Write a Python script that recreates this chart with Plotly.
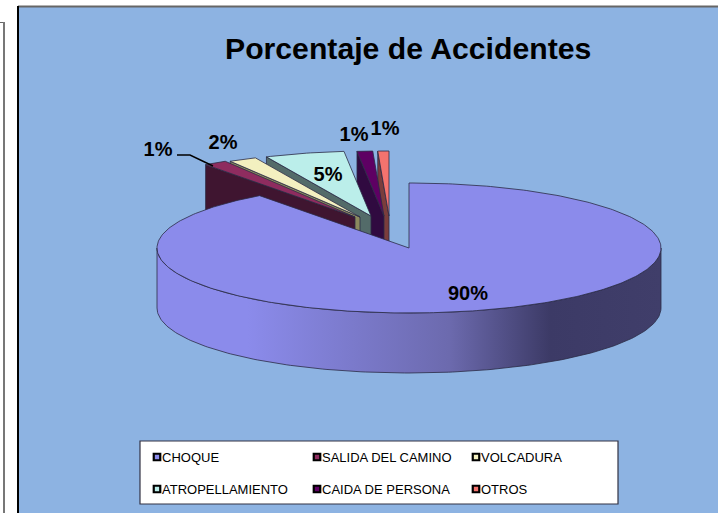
import math
import numpy as np
import plotly.graph_objects as go

# ---- data ----
categories = ["CHOQUE", "SALIDA DEL CAMINO", "VOLCADURA", "ATROPELLAMIENTO", "CAIDA DE PERSONA", "OTROS"]
values = [89.9, 1.49, 1.8, 5.1, 1.0, 0.71]
title_text = "Porcentaje de Accidentes"

# ---- styles ----
top_colors = ["#8B8BEB", "#8E2C5F", "#F3F0C0", "#BBEEEA", "#5E0063", "#F4736E"]
wall_colors = ["#8B8BEB", "#3F1530", "#8C8A5E", "#536B69", "#300A40", "#7A3D3C"]
edge = "#2b2b45"
bg = "#8DB3E2"

# ---- projection geometry (pixel scale) ----
cx, cy, rx, ry, depth = 409, 248, 252, 65, 60
pull_dx = [0, -54, -49, -38, -25, -20]
pull_dy = [0, -31, -31, -32, -32, -32]
label_pos = [(468, 295), (158, 151), (223, 144), (328, 176), (354, 136), (385, 130)]
legend_pos = [(157, 457), (317, 457), (476, 457), (157, 489), (317, 489), (476, 489)]


def pt(deg, ox=0.0, oy=0.0, dz=0.0):
    t = np.radians(deg)
    return cx + ox + rx * np.sin(t), cy + oy - ry * np.cos(t) + dz


total = sum(values)
spans = []
a = 0.0
for v in values:
    b = a + 360.0 * v / total
    spans.append((a, b))
    a = b

fig = go.Figure()


def poly(xs, ys, fill, **kw):
    fig.add_trace(go.Scatter(
        x=list(xs), y=list(ys), mode="lines", fill="toself", fillcolor=fill,
        line=dict(color=edge, width=0.8), hoverinfo="skip", showlegend=False, **kw))


# exploded slices, right to left, wall then top
for i in range(len(values) - 1, 0, -1):
    a, b = spans[i]
    ox, oy = pull_dx[i], pull_dy[i]
    ax, ay = cx + ox, cy + oy
    sx, sy = pt(a, ox, oy)
    poly([sx, ax, ax, sx, sx], [sy, ay, ay + depth, sy + depth, sy], wall_colors[i])
    arc = np.linspace(a, b, 20)
    xs, ys = pt(arc, ox, oy)
    poly([ax, *xs, ax], [ay, *ys, ay], top_colors[i])

# big slice: front wall with gradient
arc = np.linspace(90, 270, 181)
xs, ys = pt(arc)
xb, yb = pt(arc[::-1], dz=depth)
fig.add_trace(go.Scatter(
    x=[*xs, *xb, xs[0]], y=[*ys, *yb, ys[0]], mode="lines", fill="toself",
    fillgradient=dict(type="horizontal", colorscale=[
        [0.0, "#8B8BEB"], [0.18, "#8B8BEB"], [0.58, "#6C6AAE"],
        [0.78, "#3C3A66"], [1.0, "#403E6A"]]),
    line=dict(color=edge, width=0.8), hoverinfo="skip", showlegend=False))

# big slice: top
a, b = spans[0]
arc = np.linspace(a, b, 361)
xs, ys = pt(arc)
poly([cx, *xs, cx], [cy, *ys, cy], top_colors[0])

# leader line
fig.add_trace(go.Scatter(x=[177, 190, 213], y=[155, 155, 166], mode="lines",
                         line=dict(color="black", width=1.4), hoverinfo="skip", showlegend=False))

# percent labels
fig.add_trace(go.Scatter(
    x=[p[0] for p in label_pos], y=[p[1] for p in label_pos], mode="text",
    text=[f"{max(1, round(v))}%" for v in values], textposition="middle center",
    textfont=dict(family="Liberation Sans", size=20, color="black", weight="bold"),
    hoverinfo="skip", showlegend=False))

# legend entries
fig.add_trace(go.Scatter(
    x=[p[0] for p in legend_pos], y=[p[1] for p in legend_pos], mode="markers",
    marker=dict(symbol="square", size=6.5, color=top_colors, line=dict(color="black", width=2.2)),
    hoverinfo="skip", showlegend=False))
fig.add_trace(go.Scatter(
    x=[p[0] + 5 for p in legend_pos], y=[p[1] + 2 for p in legend_pos], mode="text",
    text=categories, textposition="middle right",
    textfont=dict(family="Liberation Sans", size=13, color="black"),
    hoverinfo="skip", showlegend=False))

shapes = [
    dict(type="rect", x0=18, x1=730, y0=6.5, y1=530, fillcolor=bg, line=dict(width=0), layer="below"),
    dict(type="line", x0=18, x1=730, y0=6.5, y1=6.5, line=dict(color="#666666", width=2), layer="below"),
    dict(type="line", x0=18, x1=18, y0=6, y1=530, line=dict(color="black", width=2), layer="below"),
    dict(type="line", x0=0, x1=4, y0=22.5, y1=22.5, line=dict(color="#666666", width=1), layer="below"),
    dict(type="line", x0=4, x1=4, y0=22, y1=530, line=dict(color="#777777", width=2), layer="below"),
    dict(type="rect", x0=140, x1=618, y0=441, y1=504, fillcolor="white",
         line=dict(color="#333344", width=1.2), layer="below"),
]

fig.update_layout(
    width=718, height=513, margin=dict(l=0, r=0, t=0, b=0),
    paper_bgcolor="white", plot_bgcolor="white", showlegend=False,
    xaxis=dict(range=[0, 718], visible=False, fixedrange=True),
    yaxis=dict(range=[513, 0], visible=False, fixedrange=True),
    shapes=shapes,
    annotations=[dict(x=408, y=48, xref="x", yref="y", text=f"<b>{title_text}</b>", showarrow=False,
                      font=dict(family="Liberation Sans", size=30.2, color="black"))],
)
fig.write_html("out.html", config={"displayModeBar": False},
               post_script="document.body.style.margin='0';document.documentElement.style.overflow='hidden';")
